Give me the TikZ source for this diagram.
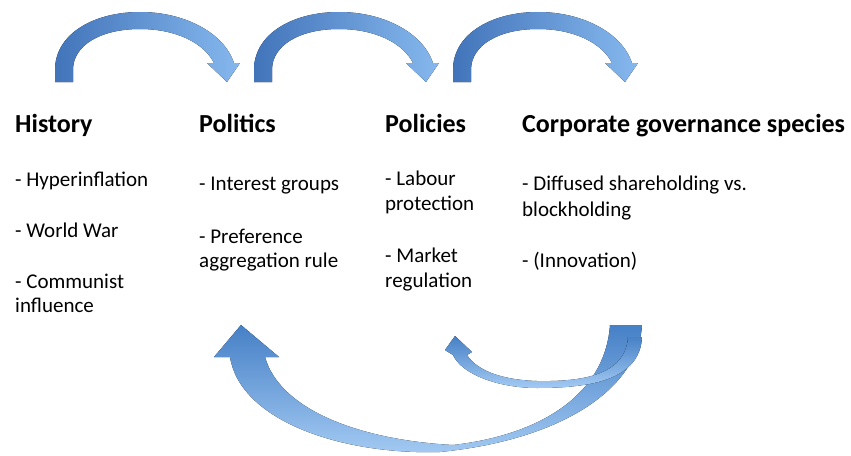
\documentclass[tikz,border=0pt]{standalone}
\usepackage{fontspec}
\setmainfont{Carlito}
\definecolor{arrdark}{HTML}{4274BA}
\definecolor{arrlight}{HTML}{86B8EE}
\definecolor{loopdark}{HTML}{4680C6}
\definecolor{looplight}{HTML}{A3CAF3}
\tikzset{
  heading/.style={anchor=base west, inner sep=0pt, font=\fontsize{26}{31}\selectfont\bfseries},
  item/.style={anchor=base west, inner sep=0pt, font=\fontsize{21}{25}\selectfont},
  toparrow/.style={left color=arrdark, right color=arrlight, draw=none},
  looparrow/.style={top color=loopdark, bottom color=looplight, draw=none},
}
\begin{document}
\begin{tikzpicture}[x=1pt,y=-1pt]
\useasboundingbox (0,0) rectangle (851,455);

% curved arrows linking the four columns
\foreach \dx in {0,199,398}{
  \begin{scope}[xshift=\dx pt]
    \fill[toparrow] (55,82) -- (55,70)
      .. controls (55,33) and (95,12) .. (140,12)
      .. controls (185,12) and (224,33) .. (234,63)
      -- (240,63) -- (227,82) -- (207,63) -- (214,63)
      .. controls (204,43) and (176,29) .. (140,29)
      .. controls (101,29) and (73,45) .. (73,70)
      -- (73,82) -- cycle;
  \end{scope}
}

% feedback arrow back to politics
\fill[looparrow] (642,325)
  .. controls (638,390) and (560,440) .. (440,452)
  .. controls (340,455) and (240,420) .. (230,357)
  -- (214,357) -- (241,325) -- (279,357) -- (265,357)
  .. controls (280,410) and (360,440) .. (453,445)
  .. controls (540,435) and (605,395) .. (610,325)
  -- cycle;

% feedback arrow back to policies
\fill[looparrow] (642,337)
  .. controls (640,380) and (590,388) .. (537,388)
  .. controls (500,388) and (462,375) .. (453,355)
  -- (445,350) -- (455,336) -- (472,352) -- (467,355)
  .. controls (478,372) and (505,380) .. (537,381)
  .. controls (590,382) and (626,372) .. (628,337)
  -- cycle;

% column headings
\node[heading] (hist) at (15,132) {History};
\node[heading] (poli) at (199,132) {Politics};
\node[heading] (pols) at (385,132) {Policies};
\node[heading] (cgs)  at (522,132) {Corporate governance species};

% history items
\node[item] (h1)  at (15,186) {- Hyperinflation};
\node[item] (h2)  at (15,237) {- World War};
\node[item] (h3)  at (15,288) {- Communist};
\node[item] (h3b) at (15,312) {influence};

% politics items
\node[item] (p1)  at (199,190) {- Interest groups};
\node[item] (p2)  at (199,243) {- Preference};
\node[item] (p2b) at (199,267) {aggregation rule};

% policy items
\node[item] (q1)  at (385,185) {- Labour};
\node[item] (q1b) at (385,210) {protection};
\node[item] (q2)  at (385,262) {- Market};
\node[item] (q2b) at (385,287) {regulation};

% governance items
\node[item] (c1)  at (522,190) {- Diffused shareholding vs.};
\node[item] (c1b) at (522,216) {blockholding};
\node[item] (c2)  at (522,267) {- (Innovation)};
\end{tikzpicture}
\end{document}
